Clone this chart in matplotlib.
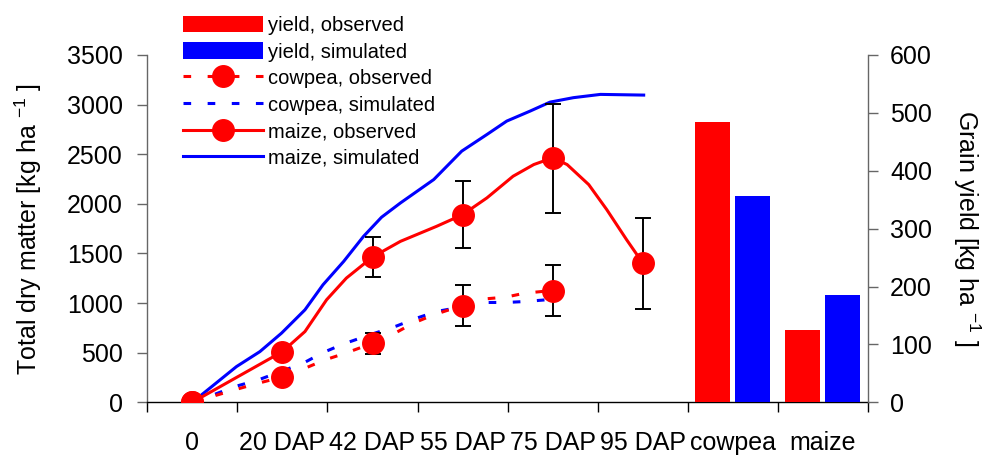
import matplotlib
matplotlib.use('Agg')
import matplotlib.pyplot as plt
from matplotlib.lines import Line2D
from matplotlib.patches import Patch
import numpy as np

plt.rcParams.update({
    'font.family': ['Liberation Sans', 'DejaVu Sans'],
    'font.size': 18,
    'axes.linewidth': 1.0,
})

# x categories
categories = ['0', '20 DAP', '42 DAP', '55 DAP', '75 DAP', '95 DAP', 'cowpea', 'maize']

# observed total dry matter at sampling dates (kg/ha)
maize_obs = [0, 510, 1465, 1890, 2460, 1400]
maize_err = [0, 0, 200, 340, 550, 460]
cowpea_obs = [0, 255, 595, 975, 1125]
cowpea_err = [0, 0, 105, 210, 255]

# curves as drawn (x in category index units, 0 = '0', 1 = '20 DAP', ...)
maize_line_x = [0, 1.0, 1.25, 1.49, 1.71, 2.0, 2.31, 2.71, 3.0, 3.27, 3.56, 3.79, 4.0, 4.16, 4.40, 4.60, 4.82, 5.0]
maize_line_y = [0, 511, 713, 1033, 1252, 1464, 1622, 1773, 1891, 2060, 2278, 2396, 2464, 2396, 2194, 1942, 1639, 1403]

maize_sim_x = [0, 0.49, 0.75, 0.99, 1.25, 1.45, 1.68, 1.90, 2.1, 2.31, 2.68, 2.99, 3.27, 3.49, 3.75, 3.97, 4.23, 4.53, 5.01]
maize_sim_y = [0, 360, 511, 697, 932, 1184, 1420, 1672, 1865, 2009, 2245, 2531, 2699, 2834, 2935, 3025, 3070, 3103, 3096]

cowpea_line_x = [0, 0.49, 0.73, 1.0, 1.25, 1.47, 1.70, 2.0, 2.25, 2.45, 2.68, 3.0, 3.26, 3.48, 3.69, 4.0]
cowpea_line_y = [0, 131, 192, 255, 343, 427, 495, 595, 697, 797, 882, 976, 1043, 1060, 1100, 1127]

cowpea_sim_x = [0, 0.23, 0.47, 0.73, 1.23, 1.45, 1.68, 1.97, 2.27, 2.49, 2.71, 3.26, 3.48, 3.70, 3.93, 4.0]
cowpea_sim_y = [0, 74, 158, 225, 394, 501, 589, 680, 770, 848, 915, 1006, 1006, 1016, 1033, 1035]

# grain yield (kg/ha): cowpea, maize
yield_obs = [485, 125]
yield_sim = [357, 186]

RED = '#ff0000'
BLUE = '#0000ff'
DASH = (0, (2.5, 5.4))

fig = plt.figure(figsize=(9.89, 4.62), dpi=100)
ax = fig.add_axes([147.3 / 989, 1 - 402.3 / 462, (868 - 147.3) / 989, (402.3 - 55) / 462])
ax2 = ax.twinx()

off = 0.5  # category centres
ax.plot(np.array(maize_sim_x) + off, maize_sim_y, color=BLUE, lw=2.2, zorder=3)
ax.plot(np.array(maize_line_x) + off, maize_line_y, color=RED, lw=2.2, zorder=3)
ax.plot(np.array(cowpea_sim_x) + off, cowpea_sim_y, color=BLUE, lw=2.2, ls=DASH, zorder=3)
ax.plot(np.array(cowpea_line_x) + off, cowpea_line_y, color=RED, lw=2.2, ls=DASH, zorder=3)

xm = np.arange(len(maize_obs)) + off
xc = np.arange(len(cowpea_obs)) + off
ax.errorbar(xm, maize_obs, yerr=maize_err, fmt='none', ecolor='black', elinewidth=1.4,
            capsize=5.5, capthick=1.4, zorder=4)
ax.errorbar(xc, cowpea_obs, yerr=cowpea_err, fmt='none', ecolor='black', elinewidth=1.4,
            capsize=5.5, capthick=1.4, zorder=4)
ax.plot(xm, maize_obs, 'o', color=RED, ms=15.5, zorder=5)
ax.plot(xc, cowpea_obs, 'o', color=RED, ms=15.5, zorder=5)

# yield bars on the right axis
bx = np.arange(6, 8) + 0.5
ax2.bar(bx - 0.225, yield_obs, width=0.39, color=RED)
ax2.bar(bx + 0.22, yield_sim, width=0.39, color=BLUE)

ax.set_xlim(0, 8)
ax.set_ylim(0, 3500)
ax2.set_ylim(0, 600)
ax.set_yticks(np.arange(0, 3501, 500))
ax2.set_yticks(np.arange(0, 601, 100))
ax.set_xticks(np.arange(0, 9))
ax.set_xticklabels([])
ax.set_xticks(np.arange(8) + 0.5, minor=True)
ax.set_xticklabels(categories, minor=True)
ax.tick_params(axis='x', which='major', direction='out', length=7.5, width=1.0)
ax.tick_params(axis='x', which='minor', length=0, pad=21)
ax.tick_params(axis='y', direction='out', length=7.5, width=1.0, color='#666666', pad=10)
ax2.tick_params(axis='y', direction='out', length=7.5, width=1.0, color='#666666', pad=8.5)

for s in ['top', 'right']:
    ax.spines[s].set_visible(False)
for s in ['top', 'left', 'bottom']:
    ax2.spines[s].set_visible(False)
ax.spines['left'].set_color('#666666')
ax2.spines['right'].set_color('#666666')

fig.text(28 / 989, 1 - 228.7 / 462, r'Total dry matter [kg ha $^{\mathregular{-1}}$ ]',
         rotation=90, ha='center', va='center')
fig.text(967 / 989, 1 - 228.7 / 462, r'Grain yield [kg ha $^{\mathregular{-1}}$ ]',
         rotation=270, ha='center', va='center')

handles = [
    Patch(facecolor=RED, label='yield, observed'),
    Patch(facecolor=BLUE, label='yield, simulated'),
    Line2D([], [], color=RED, lw=2.2, ls=DASH, marker='o', ms=15.5, label='cowpea, observed'),
    Line2D([], [], color=BLUE, lw=2.2, ls=DASH, label='cowpea, simulated'),
    Line2D([], [], color=RED, lw=2.2, marker='o', ms=15.5, label='maize, observed'),
    Line2D([], [], color=BLUE, lw=2.2, label='maize, simulated'),
]
fig.legend(handles=handles, loc='upper left', bbox_to_anchor=(183 / 989, 1 - 15.7 / 462),
           frameon=False, fontsize=14.5, borderpad=0, borderaxespad=0, handlelength=3.95,
           handleheight=0.9, handletextpad=0.25, labelspacing=0.36)

fig.savefig('out.png', dpi=100)
